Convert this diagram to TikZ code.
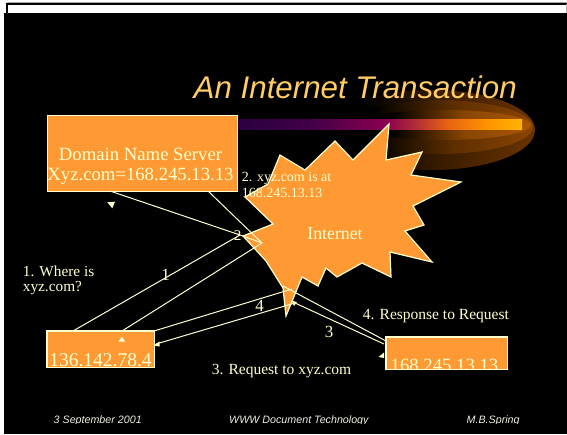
\documentclass[tikz,border=0pt]{standalone}
\usepackage{fontspec}
\setmainfont{Liberation Serif}
\newfontfamily\sansfam{Liberation Sans}
\definecolor{orng}{HTML}{FF9933}
\definecolor{cream}{HTML}{FFFFCC}
\definecolor{ttl}{HTML}{FFCC66}
\definecolor{ftr}{HTML}{EEEEDD}
\definecolor{bA}{HTML}{2A0040}
\definecolor{bB}{HTML}{400048}
\definecolor{bC}{HTML}{8A0050}
\definecolor{bD}{HTML}{B02A38}
\definecolor{bE}{HTML}{E86410}
\definecolor{bF}{HTML}{FF9400}
\definecolor{bG}{HTML}{FFB400}
\definecolor{gA}{HTML}{3A1C00}
\definecolor{gB}{HTML}{6A3300}
\definecolor{gC}{HTML}{5E2E00}
\definecolor{gD}{HTML}{8A4500}
\definecolor{gE}{HTML}{8A4600}
\definecolor{gF}{HTML}{AA5500}
\pgfdeclarehorizontalshading{barshade}{100bp}{color(0bp)=(bA); color(25bp)=(bA); color(37.5bp)=(bB); color(51bp)=(bC); color(56bp)=(bD); color(62bp)=(bE); color(69bp)=(bF); color(75bp)=(bG); color(100bp)=(bG)}
\pgfdeclarehorizontalshading{glowouter}{100bp}{color(0bp)=(black); color(25bp)=(black); color(33bp)=(black); color(52bp)=(gA); color(75bp)=(gB); color(100bp)=(gB)}
\pgfdeclarehorizontalshading{glowmid}{100bp}{color(0bp)=(black); color(25bp)=(black); color(33bp)=(black); color(54bp)=(gC); color(75bp)=(gD); color(100bp)=(gD)}
\pgfdeclarehorizontalshading{glowinner}{100bp}{color(0bp)=(black); color(25bp)=(black); color(35bp)=(black); color(56bp)=(gE); color(75bp)=(gF); color(100bp)=(gF)}
\tikzset{
  wire/.style={draw=cream, line width=1pt},
  obox/.style={draw=cream, fill=orng, line width=0.9pt, inner sep=0pt},
  lbl/.style={inner sep=0pt, text=cream, font=\fontsize{15.5}{17}\selectfont},
  num/.style={inner sep=0pt, text=cream, font=\fontsize{17}{17}\selectfont, anchor=base},
  foot/.style={inner sep=0pt, text=ftr, font=\sansfam\itshape\fontsize{10.7}{11}\selectfont, anchor=base west},
  tip/.style={fill=cream}
}
\begin{document}
\begin{tikzpicture}[x=1pt,y=-1pt]
\useasboundingbox (0,0) rectangle (567,434);
% background / frame
\fill[white] (0,0) rectangle (567,434);
\fill[black] (4,13) rectangle (567,434);
\draw[gray!70, line width=1pt] (7,2) -- (567,2);
\draw[black, line width=1.2pt] (7,13) -- (7,4) -- (567,4);
\draw[gray!60, line width=1pt] (566,4) -- (566,13);
% glow
\shade[shading=glowouter] (432,130) ellipse [x radius=103, y radius=40];
\shade[shading=glowmid] (438,127) ellipse [x radius=95, y radius=27];
\shade[shading=glowinner] (444,125) ellipse [x radius=87, y radius=15];
\shade[shading=barshade] (237,119) rectangle (522,129);
% title
\node[anchor=base west, inner sep=0pt, text=ttl, font=\sansfam\itshape\fontsize{31.3}{31}\selectfont] (title) at (193.5,98) {An Internet Transaction};
% DNS box
\node[obox, minimum width=190pt, minimum height=76pt] (dns) at (142,153) {};
\node[anchor=base, inner sep=0pt, text=cream, font=\fontsize{18.7}{19}\selectfont] (dnsA) at (140.5,160) {Domain Name Server};
\node[anchor=base, inner sep=0pt, text=cream, font=\fontsize{18.7}{19}\selectfont] (dnsB) at (140.5,180.7) {Xyz.com=168.245.13.13};
% starburst
\draw[fill=orng, draw=cream, line width=1.2pt, line join=miter]
 (389,124) -- (386,160) -- (422,152) -- (411,175) -- (461,182) -- (413,206) -- (424,225) -- (405,231) -- (432,262) -- (390,252) -- (391,277) -- (362,263) -- (337,277) -- (326,268) -- (318,286) -- (302,277) -- (286,316) -- (283,288) -- (266,261) -- (243,236) -- (273,224) -- (245,197) -- (268,184) -- (280,155) -- (305,170) -- (335,141) -- (353,160) -- cycle;
\node[anchor=base, inner sep=0pt, text=cream, font=\fontsize{17.8}{18}\selectfont] (inet) at (335,239) {Internet};
% coordinates
\coordinate (dA) at (110,191);
\coordinate (dB) at (208,191);
\coordinate (iA) at (240,235);
\coordinate (iB) at (262,243);
\coordinate (cA) at (73,331);
\coordinate (cB) at (122,331);
\coordinate (cC) at (154,331);
\coordinate (cD) at (156,344);
\coordinate (iE) at (292,289);
\coordinate (iG) at (283,286);
\coordinate (iF) at (295,303);
\coordinate (sA) at (386,341);
\coordinate (sB) at (384,344);
% connectors
\draw[wire] (dA) -- (iA);
\draw[wire] (dB) -- (iB);
\draw[wire] (cA) -- (iA);
\draw[wire] (cB) -- (iB);
\draw[wire] (iA) -- (iB);
\draw[wire] (cC) -- (iE);
\draw[wire] (iF) -- (cD);
\draw[wire] (iG) -- (sA);
\draw[wire] (iF) -- (sB);
% small arrow tips
\fill[tip] (107.3,202.3) -- (115,201.7) -- (112.3,208.3) -- cycle;
\fill[tip] (153.5,345.5) -- (159.5,341.5) -- (159.5,346.5) -- cycle;
\fill[tip] (378.5,357) -- (384,352.5) -- (384,358) -- cycle;
\fill[tip] (291.5,300.5) -- (297,302) -- (294,306) -- cycle;
% client box
\node[obox, minimum width=107pt, minimum height=36pt] (cli) at (100.5,349) {};
\begin{scope}
\clip (cli.south west) rectangle (cli.north east);
\node[anchor=base, inner sep=0pt, text=cream, font=\fontsize{19.5}{20}\selectfont] (cliT) at (100.5,366.5) {136.142.78.4};
\end{scope}
\draw[draw=cream, line width=0.9pt] (cli.south west) rectangle (cli.north east);
\fill[tip] (118.5,341.5) -- (125,341.5) -- (122,336.5) -- cycle;
% server box
\node[obox, minimum width=121pt, minimum height=32pt] (srv) at (446.5,353) {};
\begin{scope}
\clip (srv.south west) rectangle (srv.north east);
\node[anchor=base, inner sep=0pt, text=cream, font=\fontsize{18.7}{19}\selectfont] (srvT) at (444.5,371) {168.245.13.13};
\end{scope}
\draw[draw=cream, line width=0.9pt] (srv.south west) rectangle (srv.north east);
% labels
\node[lbl, anchor=base west, font=\fontsize{14}{16}\selectfont] (l2a) at (241.7,181.5) {2. xyz.com is at};
\node[lbl, anchor=base west, font=\fontsize{14}{16}\selectfont] (l2b) at (241.7,197.5) {168.245.13.13};
\node[lbl, anchor=base west, font=\fontsize{15.3}{16}\selectfont] (l1a) at (22.7,276) {1. Where is};
\node[lbl, anchor=base west, font=\fontsize{15.3}{16}\selectfont] (l1b) at (22.7,291) {xyz.com?};
\node[lbl, anchor=base west] (l4) at (362.7,319) {4. Response to Request};
\node[lbl, anchor=base west] (l3) at (211.6,374) {3. Request to xyz.com};
\node[num] (n1) at (165.5,280) {1};
\node[num, font=\fontsize{15}{15}\selectfont] (n2) at (237.5,240) {2};
\node[num] (n4) at (259.5,311) {4};
\node[num] (n3) at (329,337.5) {3};
% footer
\begin{scope}
\clip (0,0) rectangle (567,423.5);
\node[foot] (f1) at (53.5,423) {3 September 2001};
\node[foot] (f2) at (229,423) {WWW Document Technology};
\node[foot] (f3) at (466.5,423) {M.B.Spring};
\end{scope}
\end{tikzpicture}
\end{document}
